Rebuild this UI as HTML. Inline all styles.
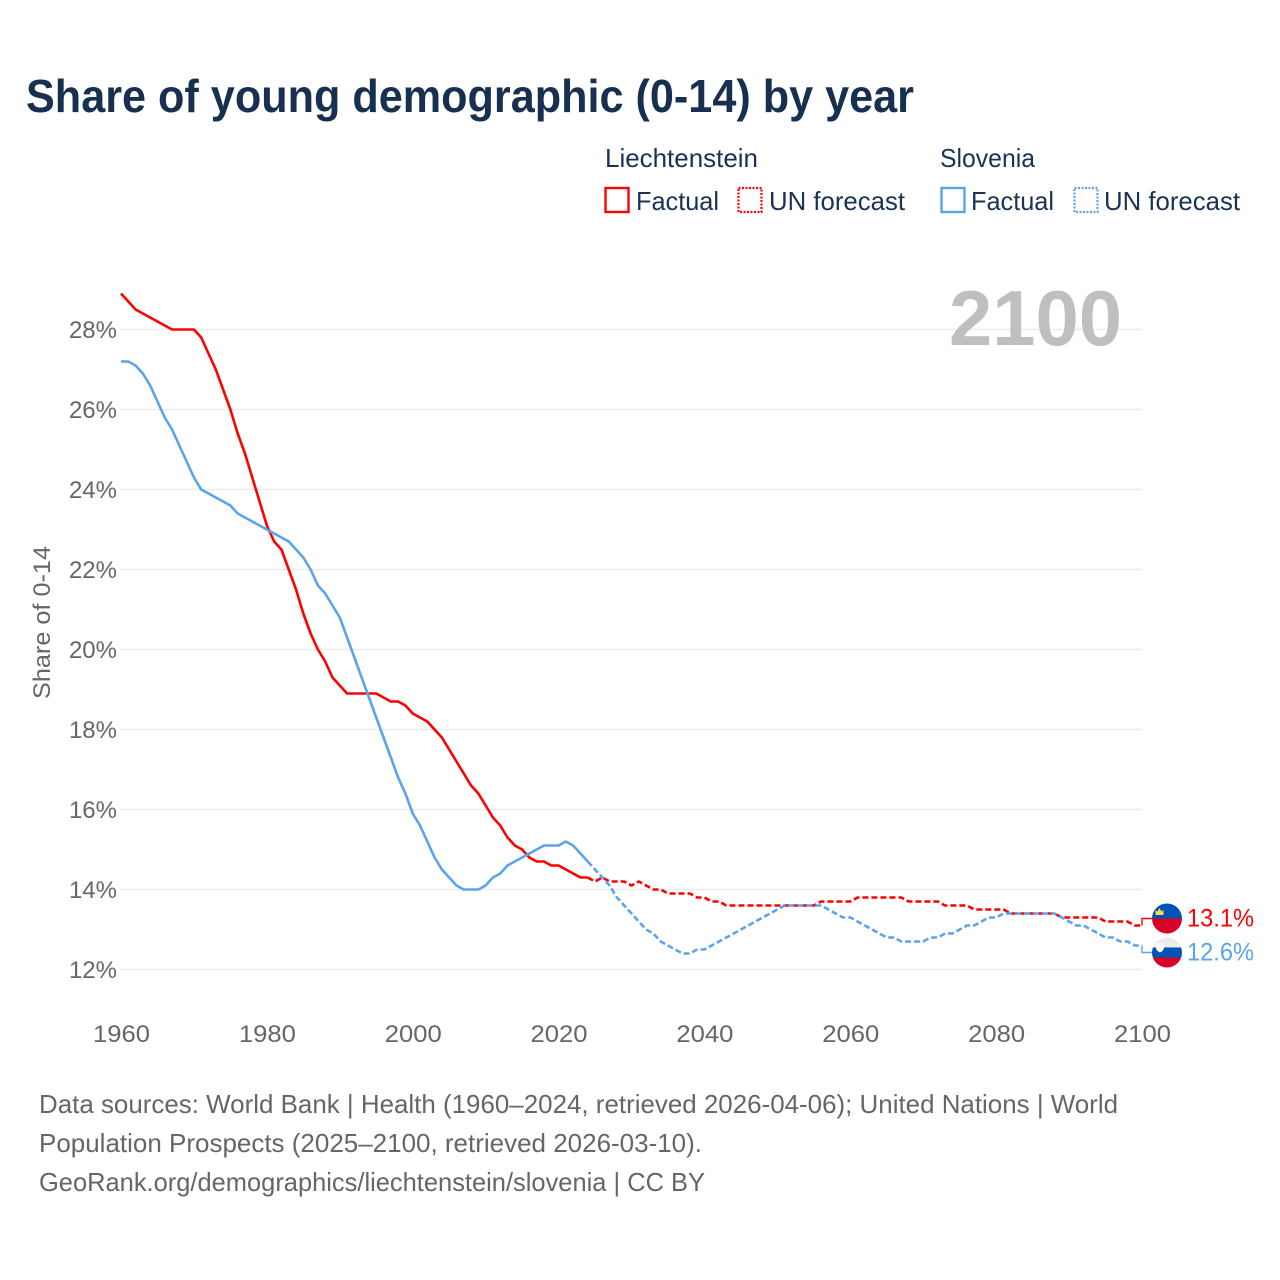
<!DOCTYPE html>
<html>
<head>
<meta charset="utf-8">
<title>Share of young demographic (0-14) by year</title>
<style>
html,body{margin:0;padding:0;background:#fff;width:1280px;height:1280px;overflow:hidden}
svg{display:block}
text{font-family:"Liberation Sans",sans-serif}
</style>
</head>
<body>
<svg id="chart" xmlns="http://www.w3.org/2000/svg" width="1280" height="1280" viewBox="0 0 1280 1280">
  <defs></defs>
  <rect width="1280" height="1280" fill="#fff"/>
  <text x="26" y="112" font-size="46" font-weight="700" fill="#17304f" textLength="888" lengthAdjust="spacingAndGlyphs">Share of young demographic (0-14) by year</text>

  <g font-size="26" fill="#1a3254">
    <text x="605" y="167" textLength="153" lengthAdjust="spacingAndGlyphs">Liechtenstein</text>
    <rect x="605.5" y="188" width="23" height="24" fill="none" stroke="#ff0000" stroke-width="2.4"/>
    <text x="636" y="210" textLength="83" lengthAdjust="spacingAndGlyphs">Factual</text>
    <rect x="738.5" y="188" width="23" height="24" fill="none" stroke="#ff0000" stroke-width="2.2" stroke-dasharray="2 1.5"/>
    <text x="769" y="210" textLength="136" lengthAdjust="spacingAndGlyphs">UN forecast</text>
    <text x="940" y="167" textLength="95" lengthAdjust="spacingAndGlyphs">Slovenia</text>
    <rect x="941.5" y="188" width="23" height="24" fill="none" stroke="#5ba4ec" stroke-width="2.4"/>
    <text x="971" y="210" textLength="83" lengthAdjust="spacingAndGlyphs">Factual</text>
    <rect x="1074.5" y="188" width="23" height="24" fill="none" stroke="#5ba4ec" stroke-width="2.2" stroke-dasharray="2 1.5"/>
    <text x="1104" y="210" textLength="136" lengthAdjust="spacingAndGlyphs">UN forecast</text>
  </g>

  <g id="grid"></g>
  <text x="949" y="345" font-size="78" font-weight="700" fill="#bfbfbf" textLength="173" lengthAdjust="spacingAndGlyphs">2100</text>
  <g id="yticks" font-size="24" fill="#666"></g>
  <g id="xticks" font-size="24" fill="#666"></g>
  <text transform="translate(50,622.5) rotate(-90)" text-anchor="middle" font-size="24" fill="#666" textLength="153" lengthAdjust="spacingAndGlyphs">Share of 0-14</text>
  <g id="series"></g>
  <g id="endlabels"></g>

  <g font-size="26" fill="#666">
    <text x="39" y="1113" textLength="1079" lengthAdjust="spacingAndGlyphs">Data sources: World Bank | Health (1960–2024, retrieved 2026-04-06); United Nations | World</text>
    <text x="39" y="1152" textLength="663" lengthAdjust="spacingAndGlyphs">Population Prospects (2025–2100, retrieved 2026-03-10).</text>
    <text x="39" y="1191" textLength="666" lengthAdjust="spacingAndGlyphs">GeoRank.org/demographics/liechtenstein/slovenia | CC BY</text>
  </g>
</svg>
<script>
var firstYear = 1960;
var lastFactualYear = 2024;
var xTickYears = [1960, 1980, 2000, 2020, 2040, 2060, 2080, 2100];
var yTickValues = [12, 14, 16, 18, 20, 22, 24, 26, 28];
var liechtensteinValues = [
  28.9,28.7,28.5,28.4,28.3,28.2,28.1,28.0,28.0,28.0,
  28.0,27.8,27.4,27.0,26.5,26.0,25.4,24.9,24.3,23.7,
  23.1,22.7,22.5,22.0,21.5,20.9,20.4,20.0,19.7,19.3,
  19.1,18.9,18.9,18.9,18.9,18.9,18.8,18.7,18.7,18.6,
  18.4,18.3,18.2,18.0,17.8,17.5,17.2,16.9,16.6,16.4,
  16.1,15.8,15.6,15.3,15.1,15.0,14.8,14.7,14.7,14.6,
  14.6,14.5,14.4,14.3,14.3,14.2,14.3,14.2,14.2,14.2,
  14.1,14.2,14.1,14.0,14.0,13.9,13.9,13.9,13.9,13.8,
  13.8,13.7,13.7,13.6,13.6,13.6,13.6,13.6,13.6,13.6,
  13.6,13.6,13.6,13.6,13.6,13.6,13.7,13.7,13.7,13.7,
  13.7,13.8,13.8,13.8,13.8,13.8,13.8,13.8,13.7,13.7,
  13.7,13.7,13.7,13.6,13.6,13.6,13.6,13.5,13.5,13.5,
  13.5,13.5,13.4,13.4,13.4,13.4,13.4,13.4,13.4,13.3,
  13.3,13.3,13.3,13.3,13.3,13.2,13.2,13.2,13.2,13.1,13.1
];
var sloveniaValues = [
  27.2,27.2,27.1,26.9,26.6,26.2,25.8,25.5,25.1,24.7,
  24.3,24.0,23.9,23.8,23.7,23.6,23.4,23.3,23.2,23.1,
  23.0,22.9,22.8,22.7,22.5,22.3,22.0,21.6,21.4,21.1,
  20.8,20.3,19.8,19.3,18.8,18.3,17.8,17.3,16.8,16.4,
  15.9,15.6,15.2,14.8,14.5,14.3,14.1,14.0,14.0,14.0,
  14.1,14.3,14.4,14.6,14.7,14.8,14.9,15.0,15.1,15.1,
  15.1,15.2,15.1,14.9,14.7,14.5,14.3,14.1,13.8,13.6,
  13.4,13.2,13.0,12.9,12.7,12.6,12.5,12.4,12.4,12.5,
  12.5,12.6,12.7,12.8,12.9,13.0,13.1,13.2,13.3,13.4,
  13.5,13.6,13.6,13.6,13.6,13.6,13.6,13.5,13.4,13.3,
  13.3,13.2,13.1,13.0,12.9,12.8,12.8,12.7,12.7,12.7,
  12.7,12.8,12.8,12.9,12.9,13.0,13.1,13.1,13.2,13.3,
  13.3,13.4,13.4,13.4,13.4,13.4,13.4,13.4,13.4,13.3,
  13.2,13.1,13.1,13.0,12.9,12.8,12.8,12.7,12.7,12.6,12.6
];

var NS = 'http://www.w3.org/2000/svg';
function xScale(year) { return 121 + (year - 1960) * (1142 - 121) / 140; }
function yScale(v) { return 969.5 - (v - 12) * 40; }
function make(tag, attrs, parent) {
  var el = document.createElementNS(NS, tag);
  for (var k in attrs) el.setAttribute(k, attrs[k]);
  parent.appendChild(el);
  return el;
}

var grid = document.getElementById('grid');
var yticks = document.getElementById('yticks');
yTickValues.forEach(function (v) {
  var line = make('line', {x1: 121, x2: 1142, y1: yScale(v), y2: yScale(v), stroke: '#ececec', 'stroke-width': 1.5}, grid);
  
  
  var t = make('text', {x: 117, y: yScale(v) + 8.5, 'text-anchor': 'end'}, yticks);
  
  
  t.textContent = v + '%';
});

var xticks = document.getElementById('xticks');
xTickYears.forEach(function (y) {
  var t = make('text', {x: xScale(y) + 0.5, y: 1042, 'text-anchor': 'middle', textLength: 57, lengthAdjust: 'spacingAndGlyphs'}, xticks);
  
  
  t.textContent = y;
});

function linePath(values, fromYear, toYear) {
  var d = '';
  for (var y = fromYear; y <= toYear; y++) {
    d += (d ? 'L' : 'M') + xScale(y).toFixed(2) + ' ' + yScale(values[y - firstYear]).toFixed(2);
  }
  return d;
}

var seriesGroup = document.getElementById('series');
function drawSeries(values, color, key) {
  var endYear = firstYear + values.length - 1;
  var a = make('path', {d: linePath(values, firstYear, lastFactualYear), fill: 'none', stroke: color, 'stroke-width': 2.6, 'stroke-linejoin': 'round'}, seriesGroup);
  
  
  var b = make('path', {d: linePath(values, lastFactualYear, endYear), fill: 'none', stroke: color, 'stroke-width': 2.6, 'stroke-dasharray': '6 3', 'stroke-linejoin': 'round'}, seriesGroup);
  
  
}
drawSeries(liechtensteinValues, '#ff0000', 'liechtenstein');
drawSeries(sloveniaValues, '#5ba4ec', 'slovenia');

// End labels: pushed apart symmetrically when they would collide.
var endA = liechtensteinValues[liechtensteinValues.length - 1];
var endB = sloveniaValues[sloveniaValues.length - 1];
var yA = yScale(endA), yB = yScale(endB);
var minGap = 34;
if (yB - yA < minGap) {
  var mid = (yA + yB) / 2;
  yA = mid - minGap / 2;
  yB = mid + minGap / 2;
}
var labels = document.getElementById('endlabels');
function connector(value, labelY, color, key) {
  var xEnd = xScale(2100);
  var c = make('path', {d: 'M' + xEnd + ' ' + yScale(value) + 'L' + xEnd + ' ' + labelY + 'L1152 ' + labelY, fill: 'none', stroke: color, 'stroke-width': 1.4}, labels);
  
  
}
connector(endA, yA, '#ff0000', 'liechtenstein');
connector(endB, yB, '#5ba4ec', 'slovenia');

function endText(value, labelY, color, key) {
  var t = make('text', {x: 1187, y: labelY + 8, 'font-size': 25, fill: color, textLength: 67, lengthAdjust: 'spacingAndGlyphs'}, labels);
  
  
  t.textContent = value.toFixed(1) + '%';
}
endText(endA, yA, '#ff0000', 'liechtenstein');
endText(endB, yB, '#5ba4ec', 'slovenia');

function flagBase(cy, key) {
  var cid = 'clip-' + key;
  var cp = make('clipPath', {id: cid}, document.querySelector('#chart defs'));
  make('circle', {cx: 1167, cy: cy, r: 15}, cp);
  var g = make('g', {'clip-path': 'url(#' + cid + ')'}, labels);
  
  
  return g;
}
var flagA = flagBase(yA, 'liechtenstein');
make('rect', {x: 1152, y: yA - 15, width: 30, height: 15, fill: '#0052b4'}, flagA);
make('rect', {x: 1152, y: yA, width: 30, height: 15, fill: '#d80027'}, flagA);
make('path', {d: 'M' + 1155.5 + ' ' + (yA - 3.5) + 'l0 -5l2 1.5l2 -3.5l2 3.5l2 -1.5l0 5z', fill: '#ffda44'}, flagA);

var flagB = flagBase(yB, 'slovenia');
make('rect', {x: 1152, y: yB - 15, width: 30, height: 10, fill: '#ececec'}, flagB);
make('rect', {x: 1152, y: yB - 5, width: 30, height: 10, fill: '#0052b4'}, flagB);
make('rect', {x: 1152, y: yB + 5, width: 30, height: 10, fill: '#d80027'}, flagB);
make('path', {d: 'M' + 1156 + ' ' + (yB - 9) + 'h8v4q0 3 -4 5q-4 -2 -4 -5z', fill: '#ffffff'}, flagB);
</script>
</body>
</html>
